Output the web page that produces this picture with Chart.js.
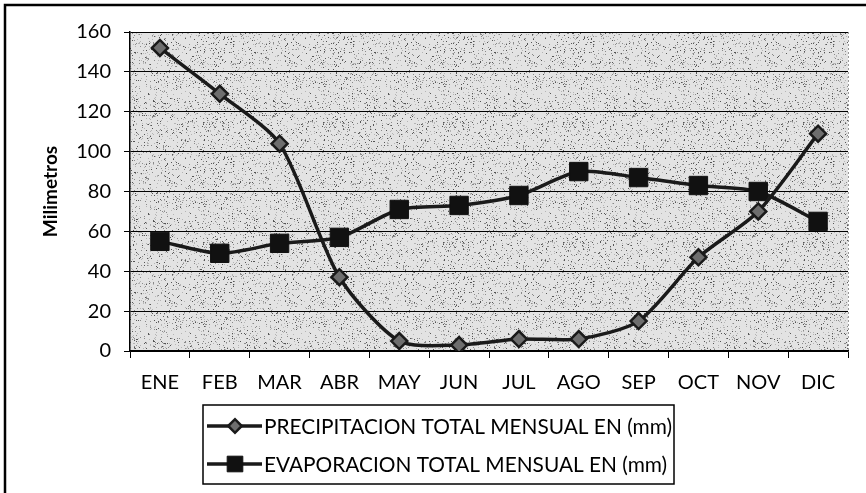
<!DOCTYPE html>
<html><head><meta charset="utf-8">
<script src="https://cdn.jsdelivr.net/npm/chart.js@4.4.1/dist/chart.umd.min.js"></script>
<style>html,body{margin:0;padding:0;background:#fff}#wrap{width:866px;height:493px;position:relative}</style>
</head><body><div id="wrap"><canvas id="c" width="866" height="493"></canvas></div>
<script>
const months = ['ENE','FEB','MAR','ABR','MAY','JUN','JUL','AGO','SEP','OCT','NOV','DIC'];
const precipitacion = [152,129,104,37,5,3,6,6,15,47,70,109];
const evaporacion = [55,49,54,57,71,73,78,90,87,83,80,65];
const seriesNames = ['PRECIPITACION TOTAL MENSUAL EN (mm)','EVAPORACION TOTAL MENSUAL EN (mm)'];
const yTitle = 'Milimetros';
const yMin = 0, yMax = 160, yStep = 20;

const FONT = 'Lato, "Open Sans", sans-serif';

// stipple texture tile (deterministic)
function makePattern(ctx){
  const t = document.createElement('canvas'); t.width = 120; t.height = 120;
  const g = t.getContext('2d');
  g.fillStyle = '#e3e3e3'; g.fillRect(0,0,120,120);
  let s = 12345;
  const rnd = () => { s = (s * 1103515245 + 12345) % 2147483648; return s / 2147483648; };
  for (let k = 0; k < 1700; k++) {
    const x = Math.floor(rnd()*120), y = Math.floor(rnd()*120);
    const v = rnd();
    g.fillStyle = v < 0.25 ? '#555' : (v < 0.6 ? '#8a8a8a' : '#b5b5b5');
    g.fillRect(x, y, 1, 1);
  }
  return ctx.createPattern(t, 'repeat');
}

const bgPlugin = {
  id: 'bg',
  beforeDraw(chart){
    const {ctx, chartArea:a} = chart;
    ctx.save();
    ctx.fillStyle = makePattern(ctx);
    ctx.fillRect(a.left, a.top, a.right - a.left, a.bottom - a.top);
    ctx.restore();
  },
  afterDraw(chart){
    const {ctx, chartArea:a} = chart;
    ctx.save();
    ctx.strokeStyle = '#999'; ctx.lineWidth = 1; ctx.setLineDash([2,2]);
    ctx.beginPath(); ctx.moveTo(a.right+0.5, a.top); ctx.lineTo(a.right+0.5, a.bottom); ctx.stroke();
    ctx.setLineDash([]);
    ctx.strokeStyle = '#000'; ctx.lineWidth = 2.5;
    ctx.beginPath(); ctx.moveTo(5, 493); ctx.lineTo(5, 5); ctx.lineTo(866, 5); ctx.stroke();
    // legend
    const bx = 203, by = 405, bw = 471, bh = 79;
    ctx.lineWidth = 1.5; ctx.strokeStyle = '#000';
    ctx.strokeRect(bx, by, bw, bh);
    const fs = 22;
    ctx.font = fs + 'px ' + FONT;
    const w0 = ctx.measureText(seriesNames[0]).width;
    const sx = 408 / w0;
    chart.data.datasets.forEach((ds, i) => {
      const cy = by + 21 + i * 38;
      ctx.strokeStyle = ds.borderColor; ctx.lineWidth = ds.borderWidth;
      ctx.beginPath(); ctx.moveTo(207, cy); ctx.lineTo(262, cy); ctx.stroke();
      ctx.fillStyle = ds.pointBackgroundColor; ctx.strokeStyle = ds.pointBorderColor; ctx.lineWidth = ds.pointBorderWidth;
      Chart.helpers.drawPoint(ctx, {pointStyle: ds.pointStyle, radius: ds.pointRadius * 0.85, borderWidth: ds.pointBorderWidth, rotation: 0}, 235, cy);
      ctx.save();
      ctx.fillStyle = '#000';
      ctx.font = fs + 'px ' + FONT;
      ctx.textBaseline = 'middle'; ctx.textAlign = 'left';
      ctx.translate(264, cy + 1);
      ctx.scale(sx, 1);
      ctx.fillText(ds.label, 0, 0);
      ctx.restore();
    });
    ctx.restore();
  }
};

new Chart(document.getElementById('c'), {
  type: 'line',
  data: {
    labels: months,
    datasets: [
      {label: seriesNames[0], data: precipitacion, borderColor: '#1a1a1a', borderWidth: 3.5, tension: 0.25,
       pointStyle: 'rectRot', pointRadius: 8, pointBackgroundColor: '#6e6e6e', pointBorderColor: '#1a1a1a', pointBorderWidth: 2.5},
      {label: seriesNames[1], data: evaporacion, borderColor: '#1a1a1a', borderWidth: 3.5, tension: 0.25,
       pointStyle: 'rect', pointRadius: 13, pointBackgroundColor: '#111', pointBorderColor: '#111', pointBorderWidth: 1}
    ]
  },
  options: {
    responsive: false,
    animation: false,
    layout: {padding: {top: 32, right: 18, left: 0, bottom: 0}},
    plugins: {legend: {display: false}, tooltip: {enabled: false}},
    scales: {
      x: {
        offset: true,
        grid: {offset: true, drawOnChartArea: false, drawTicks: true, tickLength: 7, color: '#000', lineWidth: 1},
        border: {color: '#000', width: 1.5},
        ticks: {color: '#000', font: {family: FONT, size: 20}, padding: 13},
        afterFit(s){ s.height = 142; }
      },
      y: {
        min: yMin, max: yMax,
        ticks: {stepSize: yStep, color: '#000', font: {family: FONT, size: 20}, padding: 13},
        grid: {color: '#000', lineWidth: 1, tickLength: 6},
        border: {color: '#000', width: 1.5},
        title: {display: true, text: yTitle, color: '#000', font: {family: FONT, size: 19, weight: 'bold'}, padding: {top: 39, bottom: 0}},
        afterFit(s){ s.width = 130; }
      }
    }
  },
  plugins: [bgPlugin]
});
</script>
</body></html>
